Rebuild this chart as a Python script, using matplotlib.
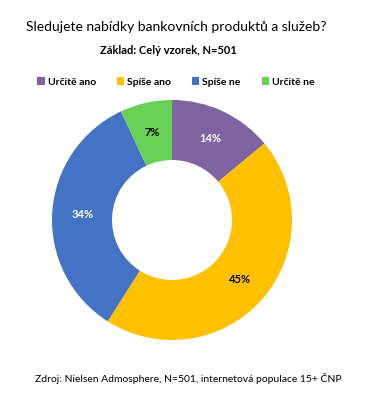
import matplotlib.pyplot as plt
from matplotlib.patches import Patch
import numpy as np

categories = ['Určitě ano', 'Spíše ano', 'Spíše ne', 'Určitě ne']
values = [14, 45, 34, 7]
colors = ['#8064A2', '#FFC000', '#4472C4', '#66D154']
label_colors = ['white', 'black', 'white', 'black']

plt.rcParams['font.family'] = ['Lato', 'DejaVu Sans']

fig = plt.figure(figsize=(3.70, 3.96), dpi=100)
fig.patch.set_facecolor('white')

ax = fig.add_axes([52 / 370, 1 - 340 / 396, 240 / 370, 240 / 396])
wedges, texts = ax.pie(values, colors=colors, startangle=90, counterclock=False,
                       radius=1.0, wedgeprops=dict(width=0.5, linewidth=0))
ax.set_xlim(-1, 1)
ax.set_ylim(-1, 1)
ax.set_aspect('equal')
ax.axis('off')

# labels in the middle of the ring
ang = 90.0
for v, c in zip(values, label_colors):
    mid = ang - v / 100 * 360 / 2
    ang -= v / 100 * 360
    r = 0.75
    ax.text(r * np.cos(np.radians(mid)), r * np.sin(np.radians(mid)), f'{v}%',
            ha='center', va='center', color=c, fontsize=8, fontweight='bold')

fig.text(176 / 370, 1 - 27 / 396, 'Sledujete nabídky bankovních produktů a služeb?',
         ha='center', va='center', fontsize=10, color='black')
fig.text(168 / 370, 1 - 50 / 396, 'Základ: Celý vzorek, N=501',
         ha='center', va='center', fontsize=8, fontweight='bold', color='black')

handles = [Patch(facecolor=c, edgecolor='none') for c in colors]
fig.legend(handles, categories, loc='center', bbox_to_anchor=(176 / 370, 1 - 82 / 396),
           ncol=4, frameon=False, handlelength=0.7, handleheight=0.7,
           handletextpad=0.3, columnspacing=2.0,
           prop=dict(weight='bold', size=7.5))

fig.text(188 / 370, 1 - 378 / 396, 'Zdroj: Nielsen Admosphere, N=501, internetová populace 15+ ČNP',
         ha='center', va='center', fontsize=7.5, color='black')

fig.savefig('out.png', dpi=100, facecolor='white')
